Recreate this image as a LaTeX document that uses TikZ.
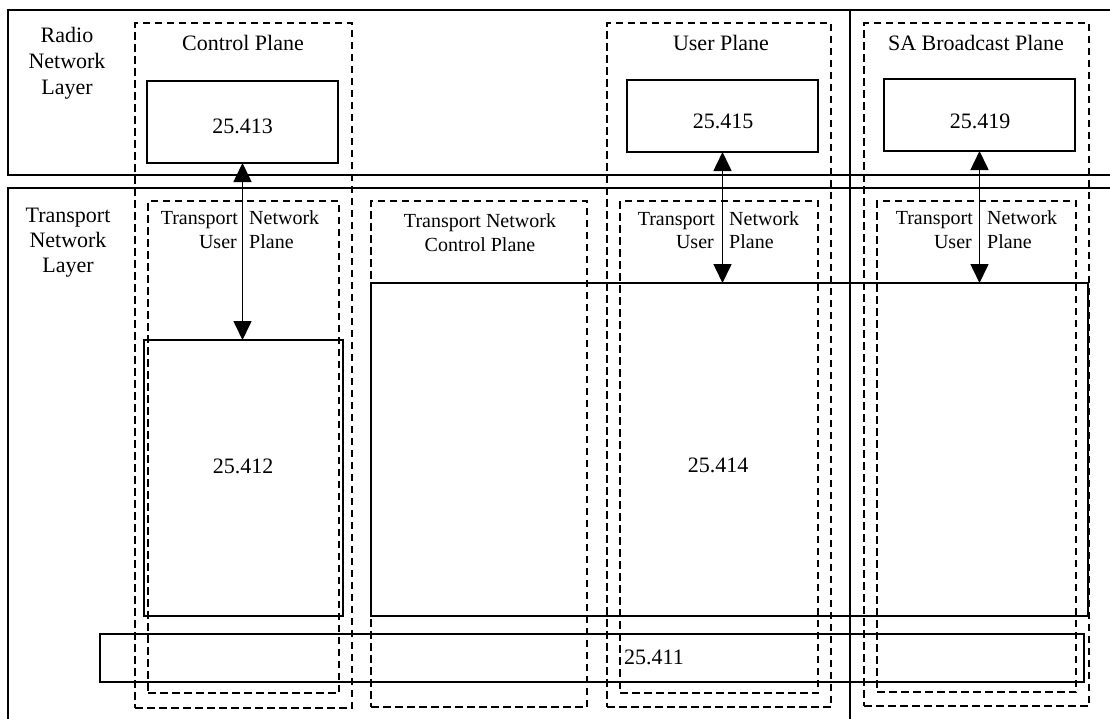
\documentclass[tikz,border=0pt]{standalone}
\usepackage{fontspec}
\setmainfont{Liberation Serif}
\usetikzlibrary{arrows.meta}
\tikzset{
  solidbox/.style={draw=black, line width=1.5pt, inner sep=0pt, outer sep=0pt},
  dashbox/.style={draw=black, line width=2.5pt, dash pattern=on 7.5pt off 4.5pt, inner sep=0pt, outer sep=0pt},
  layerline/.style={draw=black, line width=1.7pt},
  big/.style={inner sep=0pt, anchor=base, font=\fontsize{22}{26}\selectfont},
  small/.style={inner sep=0pt, font=\fontsize{20}{24}\selectfont},
  conn/.style={line width=1.6pt, {Triangle[length=19pt,width=18pt]}-{Triangle[length=19pt,width=18pt]}}
}
\begin{document}
\begin{tikzpicture}[x=1pt,y=-1pt]
\useasboundingbox (0,0) rectangle (1110,718);
\clip (0,0) rectangle (1110,718);
\fill[white] (0,0) rectangle (1110,718);
% layers
\draw[layerline] (1115,10) -- (8,10) -- (8,175) -- (1115,175);
\draw[layerline] (1115,188) -- (8,188) -- (8,725);
\coordinate (vtop) at (850,10);
\coordinate (vbot) at (850,725);
\draw[layerline] (vtop) -- (vbot);
% layer labels
\node[big] (rnl1) at (67,42) {Radio};
\node[big] (rnl2) at (67,68) {Network};
\node[big] (rnl3) at (67,94) {Layer};
\node[big] (tnl1) at (68,222) {Transport};
\node[big] (tnl2) at (68,247) {Network};
\node[big] (tnl3) at (68,272) {Layer};
% planes (dashed)
\node[dashbox, minimum width=217pt, minimum height=685pt] (cp) at (243.5,365.5) {};
\node[dashbox, minimum width=224pt, minimum height=684pt] (up) at (719,365) {};
\node[dashbox, minimum width=225pt, minimum height=683pt] (sa) at (976.5,364.5) {};
\node[dashbox, minimum width=191pt, minimum height=492pt] (tnup1) at (243.5,447) {};
\node[dashbox, minimum width=216pt, minimum height=506pt] (tncp) at (479,454) {};
\node[dashbox, minimum width=198pt, minimum height=492pt] (tnup2) at (719,447) {};
\node[dashbox, minimum width=199pt, minimum height=491pt] (tnup3) at (976.5,446.5) {};
% plane titles
\node[big] (cpt) at (243,50) {Control Plane};
\node[big] (upt) at (721,50) {User Plane};
\node[big] (sat) at (976,50) {SA Broadcast Plane};
% spec boxes
\node[solidbox, minimum width=191pt, minimum height=82pt] (b413) at (242.5,122) {};
\node[solidbox, minimum width=191pt, minimum height=72pt] (b415) at (722.5,116) {};
\node[solidbox, minimum width=191pt, minimum height=72pt] (b419) at (979.5,115) {};
\node[solidbox, minimum width=199pt, minimum height=276pt] (b412) at (243.5,478) {};
\node[solidbox, minimum width=717pt, minimum height=333pt] (b414) at (729.5,449.5) {};
\node[solidbox, minimum width=984pt, minimum height=48pt] (b411) at (592,658) {};
% spec labels
\node[big] (t413) at (242.5,133) {25.413};
\node[big] (t415) at (723,128) {25.415};
\node[big] (t419) at (980,128) {25.419};
\node[big] (t412) at (243,473) {25.412};
\node[big] (t414) at (718,472) {25.414};
\node[big] (t411) at (654,664) {25.411};
% transport network control plane label
\node[small, anchor=base] (tncp1) at (480,227) {Transport Network};
\node[small, anchor=base] (tncp2) at (480,251) {Control Plane};
% transport network user plane labels
\node[small, anchor=base east] (u1a) at (238,224) {Transport};
\node[small, anchor=base east] (u1b) at (237,248) {User};
\node[small, anchor=base west] (u1c) at (249,224) {Network};
\node[small, anchor=base west] (u1d) at (249,248) {Plane};
\node[small, anchor=base east] (u2a) at (715,225) {Transport};
\node[small, anchor=base east] (u2b) at (714,248) {User};
\node[small, anchor=base west] (u2c) at (729,225) {Network};
\node[small, anchor=base west] (u2d) at (729,248) {Plane};
\node[small, anchor=base east] (u3a) at (973,224) {Transport};
\node[small, anchor=base east] (u3b) at (972,248) {User};
\node[small, anchor=base west] (u3c) at (987,224) {Network};
\node[small, anchor=base west] (u3d) at (987,248) {Plane};
% connectors
\draw[conn] (b413.south) -- (b413.south |- b412.north);
\draw[conn] (b415.south) -- (b415.south |- b414.north);
\draw[conn] (b419.south) -- (b419.south |- b414.north);
\end{tikzpicture}
\end{document}
